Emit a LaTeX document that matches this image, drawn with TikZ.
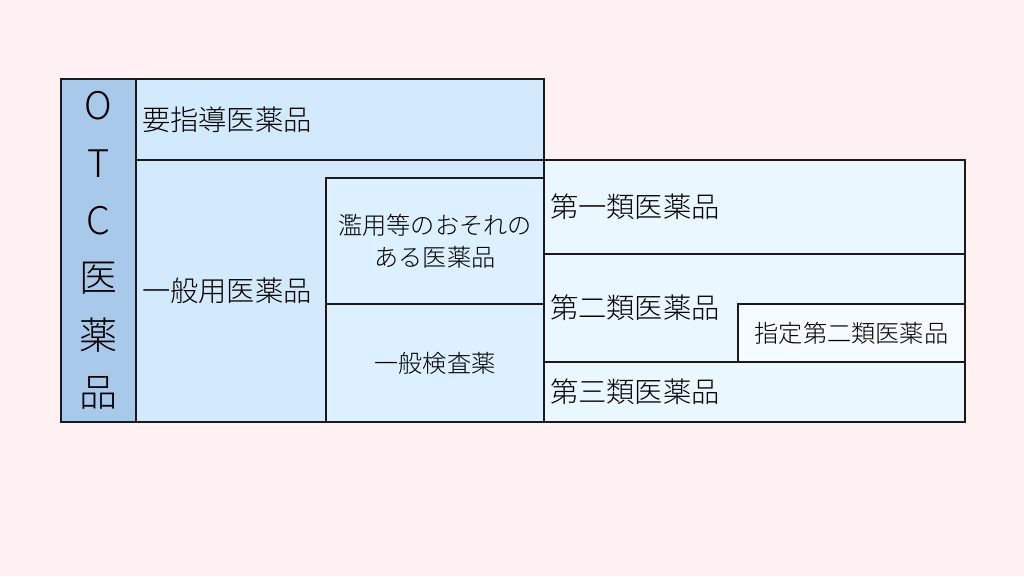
\documentclass[tikz,border=0pt]{standalone}
\usepackage{fontspec}
\setmainfont{Noto Sans CJK JP}[UprightFont=* Light]
\definecolor{bgpink}{HTML}{FFF1F1}
\definecolor{otcblue}{HTML}{A9C9EA}
\definecolor{midblue}{HTML}{D2EAFC}
\definecolor{innerblue}{HTML}{DCF0FF}
\definecolor{paleblue}{HTML}{EBF7FF}
\definecolor{palest}{HTML}{F5FBFF}
\definecolor{edge}{HTML}{1A1A1A}
\tikzset{
  box/.style={draw=edge, line width=2pt, rectangle, anchor=north west, outer sep=0pt, inner ysep=0pt},
  bigtxt/.style={font=\fontsize{28.3pt}{32pt}\selectfont},
  smalltxt/.style={font=\fontsize{24.2pt}{32pt}\selectfont},
}
\begin{document}
\begin{tikzpicture}[x=1pt,y=-1pt]
\fill[bgpink] (0,0) rectangle (1024,576);
\useasboundingbox (0,0) rectangle (1024,576);
% OTC column
\node[box, fill=otcblue, minimum width=75pt, minimum height=343pt, inner xsep=0pt, text width=75pt, align=center,
      font=\fontsize{38pt}{57.4pt}\selectfont] (otc) at (61,79) {O\\T\\C\\医\\薬\\品};
% 要指導医薬品
\node[box, fill=midblue, minimum width=408pt, minimum height=81pt, inner xsep=6pt, text width=396pt, align=left, bigtxt] (yoshido) at (136,79) {要指導医薬品};
% 一般用医薬品
\node[box, fill=midblue, minimum width=408pt, minimum height=262pt, inner xsep=6pt, text width=396pt, align=left, bigtxt] (ippan) at (136,160) {一般用医薬品};
% 濫用等のおそれのある医薬品
\node[box, fill=innerblue, minimum width=218pt, minimum height=126pt, inner xsep=0pt, text width=218pt, align=center, smalltxt] (ranyo) at (326,178) {濫用等のおそれの\\ある医薬品};
% 一般検査薬
\node[box, fill=innerblue, minimum width=218pt, minimum height=118pt, inner xsep=0pt, text width=218pt, align=center, smalltxt] (kensa) at (326,304) {一般検査薬};
% 第一類
\node[box, fill=paleblue, minimum width=421pt, minimum height=94pt, inner xsep=6pt, text width=409pt, align=left, bigtxt] (dai1) at (544,160) {第一類医薬品};
% 第二類
\node[box, fill=paleblue, minimum width=421pt, minimum height=108pt, inner xsep=6pt, text width=409pt, align=left, bigtxt] (dai2) at (544,254) {第二類医薬品};
% 指定第二類
\node[box, fill=palest, minimum width=227pt, minimum height=58pt, inner xsep=0pt, text width=227pt, align=center, smalltxt] (shitei) at (738,304) {指定第二類医薬品};
% 第三類
\node[box, fill=paleblue, minimum width=421pt, minimum height=60pt, inner xsep=6pt, text width=409pt, align=left, bigtxt] (dai3) at (544,362) {第三類医薬品};
\end{tikzpicture}
\end{document}
